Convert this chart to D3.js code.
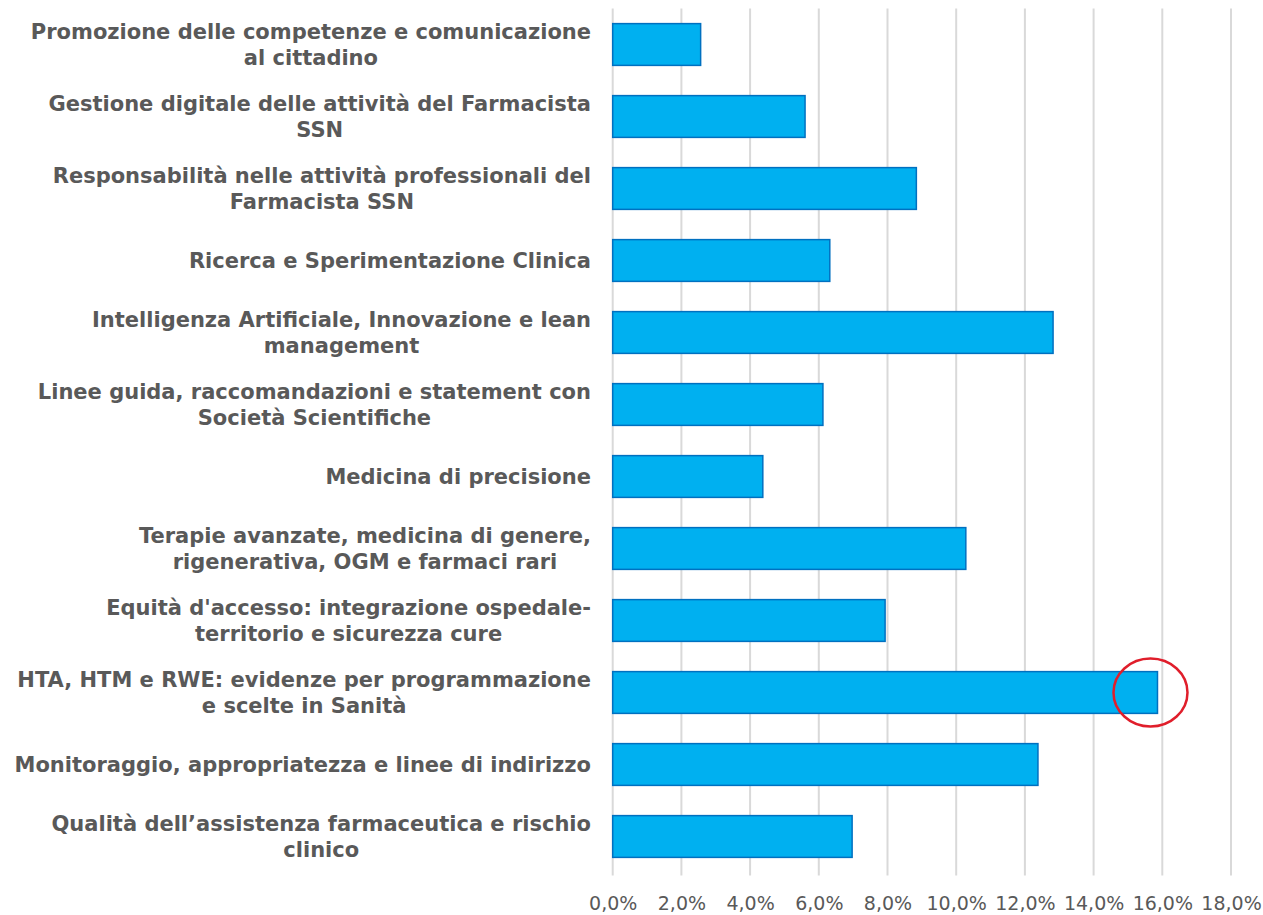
<!DOCTYPE html>
<html>
<head>
<meta charset="utf-8">
<script src="https://cdn.jsdelivr.net/npm/d3@7"></script>
<style>
  body { margin: 0; background: #fff; }
  svg { display: block; }
</style>
</head>
<body>
<div id="main"></div>
<script>
// DATA
const categories = [
  ["Promozione delle competenze e comunicazione", "al cittadino"],
  ["Gestione digitale delle attività del Farmacista", "SSN"],
  ["Responsabilità nelle attività professionali del", "Farmacista SSN"],
  ["Ricerca e Sperimentazione Clinica"],
  ["Intelligenza Artificiale, Innovazione e lean", "management"],
  ["Linee guida, raccomandazioni e statement con", "Società Scientifiche"],
  ["Medicina di precisione"],
  ["Terapie avanzate, medicina di genere,", "rigenerativa, OGM e farmaci rari"],
  ["Equità d'accesso: integrazione ospedale-", "territorio e sicurezza cure"],
  ["HTA, HTM e RWE: evidenze per programmazione", "e scelte in Sanità"],
  ["Monitoraggio, appropriatezza e linee di indirizzo"],
  ["Qualità dell’assistenza farmaceutica e rischio", "clinico"]
]
const values = [2.56, 5.6, 8.84, 6.32, 12.82, 6.12, 4.37, 10.28, 7.93, 15.86, 12.38, 6.97]
const ticks = [0, 2, 4, 6, 8, 10, 12, 14, 16, 18]
const highlighted = 9 // HTA bar, circled in red

// SETUP
const width = 1263
const height = 915
const margin = {top: 8.5, right: 32, bottom: 42.5, left: 612.7}

const blue = '#00B0F0'
const blueDark = '#0070C0'
const grey = '#595959'
const grid = '#D9D9D9'

const svg = d3.select("#main").append("svg")
  .attr("width", width)
  .attr("height", height)

const x = d3.scaleLinear()
  .domain([0, 18])
  .range([margin.left, 1231])

const y = d3.scaleBand()
  .domain(d3.range(categories.length))
  .range([margin.top, height - margin.bottom])
  .paddingInner(0.42)
  .paddingOuter(0.21)

// GRID
svg.append("g")
  .selectAll("line")
  .data(ticks)
  .join("line")
    .attr("x1", d => x(d)).attr("x2", d => x(d))
    .attr("y1", margin.top).attr("y2", height - margin.bottom + 3)
    .attr("stroke", grid)
    .attr("stroke-width", 2)

// BARS
svg.append("g")
  .selectAll("rect")
  .data(values)
  .join("rect")
    .attr("x", x(0))
    .attr("y", (d, i) => y(i))
    .attr("width", d => x(d) - x(0))
    .attr("height", y.bandwidth())
    .attr("fill", blue)
    .attr("stroke", blueDark)
    .attr("stroke-width", 1.5)

// X AXIS LABELS
const xAxis = d3.axisBottom(x)
  .tickValues(ticks)
  .tickSize(0)
  .tickFormat(d => d3.format(".1f")(d).replace(".", ",") + "%")

svg.append("g")
  .attr("transform", `translate(0, ${height - margin.bottom + 21})`)
  .call(xAxis)
  .call(g => g.select(".domain").remove())
  .selectAll("text")
    .attr("font-family", "DejaVu Sans, Verdana, sans-serif")
    .attr("font-size", 19)
    .attr("fill", grey)

// CATEGORY LABELS
const lineH = 26
const labels = svg.append("g")
  .selectAll("text")
  .data(categories)
  .join("text")
    .attr("font-family", "DejaVu Sans, Verdana, sans-serif")
    .attr("font-weight", "bold")
    .attr("font-size", 21)
    .attr("fill", grey)
    .attr("text-anchor", "middle")

labels.each(function(lines, i) {
  let t = d3.select(this)
  let cy = y(i) + y.bandwidth() / 2
  let y0 = cy - (lines.length - 1) * lineH / 2
  t.selectAll("tspan")
    .data(lines)
    .join("tspan")
      .attr("y", (d, k) => y0 + k * lineH)
      .attr("dy", "0.35em")
      .text(d => d)
})

// right-align each label block at the axis, lines centred within
labels.each(function() {
  let t = d3.select(this)
  let w = d3.max(t.selectAll("tspan").nodes(), n => n.getComputedTextLength())
  t.selectAll("tspan").attr("x", 591 - w / 2)
})

// ANNOTATION
svg.append("ellipse")
  .attr("cx", x(values[highlighted]) - 7)
  .attr("cy", y(highlighted) + y.bandwidth() / 2)
  .attr("rx", 37)
  .attr("ry", 34)
  .attr("fill", "none")
  .attr("stroke", "#E01E2B")
  .attr("stroke-width", 2.5)
</script>
</body>
</html>
